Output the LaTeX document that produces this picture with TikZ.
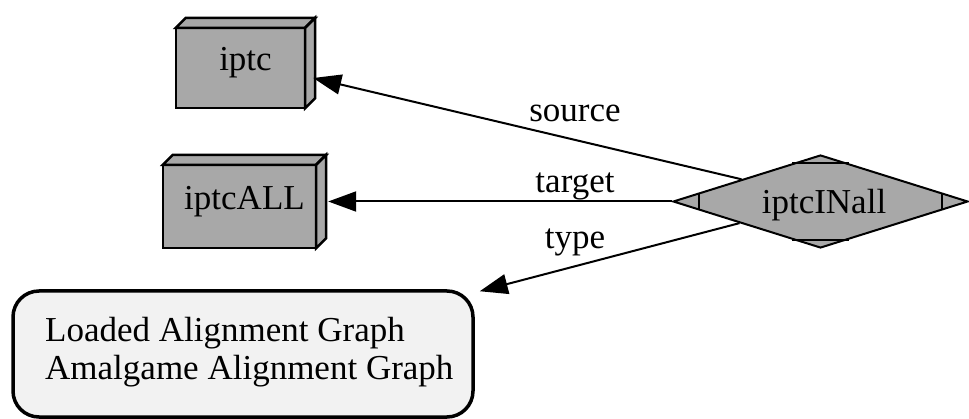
\documentclass[tikz,border=0pt]{standalone}
\usepackage{fontspec}
\setmainfont{Liberation Serif}
\usetikzlibrary{arrows.meta,calc,shapes.geometric,backgrounds}

\definecolor{boxgray}{HTML}{A8A8A8}
\definecolor{notefill}{HTML}{F2F2F2}

\begin{document}
\begin{tikzpicture}[x=1pt,y=-1pt,
  every node/.style={font=\fontsize{35}{38}\selectfont},
  outer3d/.style={inner sep=0pt},
  face/.style={draw=black, line width=2.5pt, fill=boxgray, line join=miter},
  relation/.style={diamond, draw=black, fill=boxgray, line width=2pt,
    shape aspect=3.17, minimum width=295pt, minimum height=93pt, inner sep=0pt},
  marker/.style={draw=black, line width=2pt},
  notebox/.style={draw=black, fill=notefill, line width=3.5pt, rounded corners=26pt,
    minimum width=460pt, minimum height=126pt, inner sep=0pt},
  link/.style={draw=black, line width=2pt, -{Triangle[length=28pt,width=20pt]}},
  edgelabel/.style={anchor=base, inner sep=0pt},
  notetext/.style={anchor=base west, inner sep=0pt}
]
\useasboundingbox (0,0) rectangle (969,419);

% ---- 3-D boxes (outer extent includes the depth of 10pt) ----
\node[outer3d, minimum width=139pt, minimum height=90pt] (iptc) at (245.5,63) {iptc};
\node[outer3d, minimum width=163pt, minimum height=93pt] (iptcALL) at (244.5,201.5) {iptcALL};

\begin{scope}[on background layer]
  \foreach \b in {iptc,iptcALL}{
    % front face
    \draw[face] (\b.south west) rectangle ($(\b.north east)+(-10,10)$);
    % top face
    \draw[face] ($(\b.north west)+(0,10)$) -- ($(\b.north west)+(10,0)$)
      -- (\b.north east) -- ($(\b.north east)+(-10,10)$) -- cycle;
    % right face
    \draw[face] ($(\b.north east)+(-10,10)$) -- (\b.north east)
      -- ($(\b.south east)+(0,-10)$) -- ($(\b.south east)+(-10,0)$) -- cycle;
  }
\end{scope}

% ---- relation diamond with corner markers ----
\node[relation] (rel) at (820.5,201.5)
  {\hspace*{7pt}\raisebox{-4pt}[\height][\depth]{iptcINall}};
\draw[marker] ($(rel.west)!0.183!(rel.north)$) -- ($(rel.west)!0.183!(rel.south)$);
\draw[marker] ($(rel.east)!0.183!(rel.north)$) -- ($(rel.east)!0.183!(rel.south)$);
\draw[marker] ($(rel.north)!0.19!(rel.west)$) -- ($(rel.north)!0.19!(rel.east)$);
\draw[marker] ($(rel.south)!0.19!(rel.west)$) -- ($(rel.south)!0.19!(rel.east)$);

% ---- graph type note ----
\node[notebox] (types) at (243,354) {};
\node[notetext] (typesA) at (45,342) {Loaded Alignment Graph};
\node[notetext] (typesB) at (45,380) {Amalgame Alignment Graph};

% ---- connectors ----
\draw[link] ($(rel.west)!0.468!(rel.north)$) -- ($(iptc.east)+(-2,15)$);
\draw[link] (rel.west) -- ($(iptcALL.east)+(2,0)$);
\draw[link] ($(rel.west)!0.455!(rel.south)$) -- ($(types.north east)+(5,2)$);

% ---- connector labels ----
\node[edgelabel] (lsource) at (575,122) {source};
\node[edgelabel] (ltarget) at (575,193) {target};
\node[edgelabel] (ltype) at (575,249) {type};
\end{tikzpicture}
\end{document}
